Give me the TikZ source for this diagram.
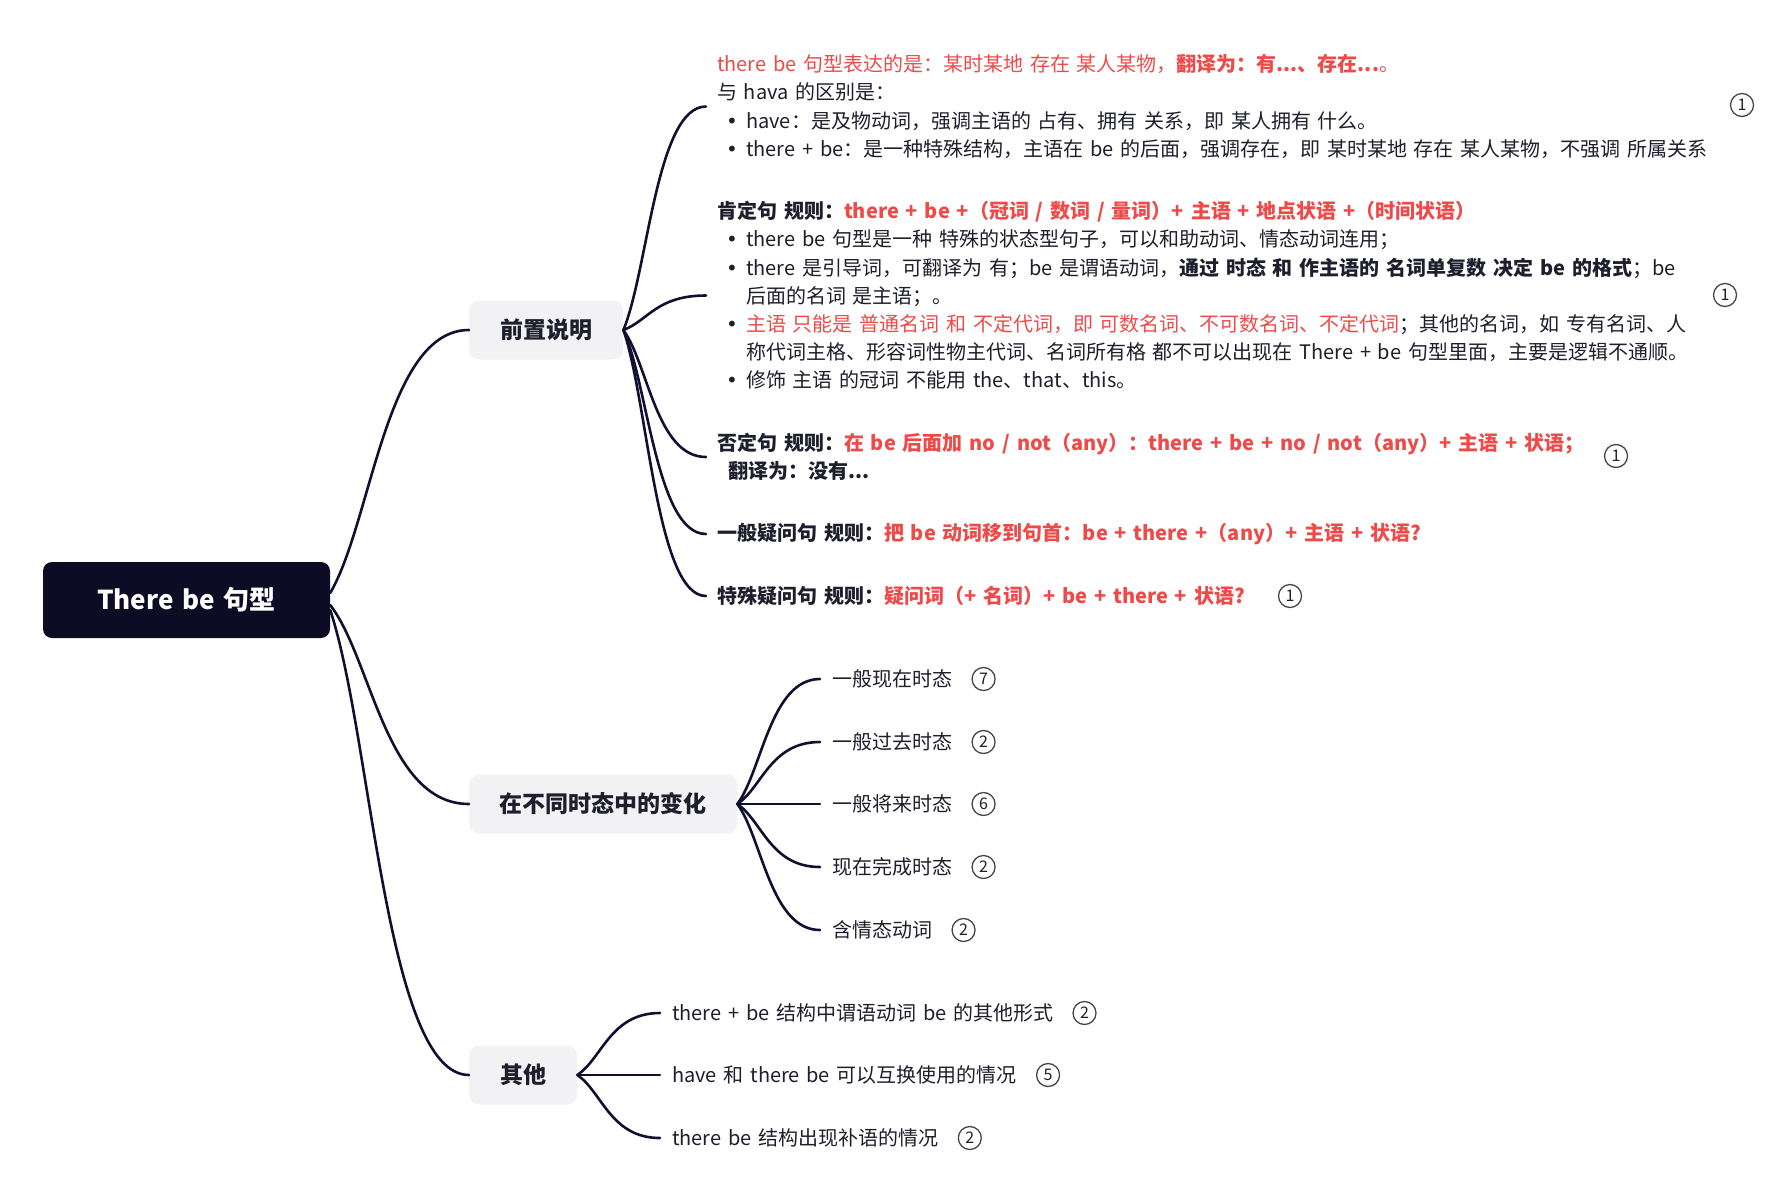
\documentclass[tikz,border=0pt]{standalone}
\usepackage{fontspec}
\setmainfont{Noto Sans CJK SC}[WordSpace=1.5]
\newfontfamily\bulfont{DejaVu Sans}
\usetikzlibrary{calc,positioning}
\definecolor{ink}{HTML}{1E1E2C}
\definecolor{redt}{HTML}{EE4A4A}
\definecolor{linec}{HTML}{121030}
\definecolor{rootc}{HTML}{0E0C24}
\definecolor{boxc}{HTML}{F2F2F4}
\definecolor{numc}{HTML}{44444E}
\newcommand{\bul}{\makebox[29pt][l]{\hspace*{9pt}{\bulfont •}}}
\newcommand{\cont}{\hspace*{29pt}}
\begin{document}
\begin{tikzpicture}[x=1pt,y=-1pt,
  conn/.style={draw=linec, line width=2.6pt, line cap=round},
  curvy/.style={to path={let \p1=(\tikztostart), \p2=(\tikztotarget) in
     .. controls ({\x1+0.3*(\x2-\x1)},{\y1+0.27*(\y2-\y1)}) and ({\x1+0.4*(\x2-\x1)},{\y2}) .. (\tikztotarget)}},
  rootbox/.style={fill=rootc, rounded corners=9pt, minimum width=287pt, minimum height=76pt,
     text=white, font=\fontsize{26}{30}\selectfont\bfseries, inner sep=0pt},
  branch/.style={fill=boxc, rounded corners=10pt, minimum height=59pt, anchor=west,
     text=ink, font=\fontsize{23}{27}\selectfont\bfseries, inner sep=0pt},
  blk/.style={anchor=west, align=left, inner xsep=11pt, inner ysep=0pt, text=ink,
     font=\fontsize{20}{28.2}\selectfont},
  leaf/.style={anchor=west, inner xsep=12pt, inner ysep=0pt, text=ink,
     font=\fontsize{20}{24}\selectfont},
  num/.style={circle, draw=numc, line width=1.3pt, minimum size=23pt, inner sep=0pt,
     text=ink, font=\fontsize{16}{16}\selectfont}
]
\useasboundingbox (0,0) rectangle (1768,1200);

% root and main branches
\node[rootbox] (root) at (186.5,600) {There be 句型};
\node[branch, minimum width=154pt] (pre) at (469,330) {前置说明};
\node[branch, minimum width=268pt] (tense) at (469,804) {在不同时态中的变化};
\node[branch, minimum width=108pt] (other) at (469,1075) {其他};

\draw[conn] ($(root.east)+(0,-7)$) to[curvy] (pre.west);
\draw[conn] ($(root.east)+(0,5)$) to[curvy] (tense.west);
\draw[conn] ($(root.east)+(0,10)$) to[curvy] (other.west);

% 前置说明 blocks
\node[blk] (p1) at (706,106.5) {%
{\color{redt}there be 句型表达的是：某时某地 存在 某人某物，\textbf{翻译为：有...、存在...}。}\\
与 hava 的区别是：\\
\bul have：是及物动词，强调主语的 占有、拥有 关系，即 某人拥有 什么。\\
\bul there + be：是一种特殊结构，主语在 be 的后面，强调存在，即 某时某地 存在 某人某物，不强调 所属关系};

\node[blk] (p2) at (706,295.5) {%
\textbf{肯定句 规则：{\color{redt}there + be +（冠词 / 数词 / 量词）+ 主语 + 地点状语 +（时间状语）}}\\
\bul there be 句型是一种 特殊的状态型句子，可以和助动词、情态动词连用；\\
\bul there 是引导词，可翻译为 有；be 是谓语动词，\textbf{通过 时态 和 作主语的 名词单复数 决定 be 的格式}；be\\
\cont 后面的名词 是主语；。\\
\bul {\color{redt}主语 只能是 普通名词 和 不定代词，即 可数名词、不可数名词、不定代词}；其他的名词，如 专有名词、人\\
\cont 称代词主格、形容词性物主代词、名词所有格 都不可以出现在 There + be 句型里面，主要是逻辑不通顺。\\
\bul 修饰 主语 的冠词 不能用 the、that、this。};

\node[blk] (p3) at (706,457) {%
\textbf{否定句 规则：{\color{redt}在 be 后面加 no / not（any）：there + be + no / not（any）+ 主语 + 状语；}}\\
\hspace*{11pt}\textbf{翻译为：没有...}};

\node[blk] (p4) at (706,534) {%
\textbf{一般疑问句 规则：{\color{redt}把 be 动词移到句首：be + there +（any）+ 主语 + 状语?}}};

\node[blk] (p5) at (706,596) {%
\textbf{特殊疑问句 规则：{\color{redt}疑问词（+ 名词）+ be + there + 状语?}}};

\foreach \b in {p1,p2,p3,p4,p5} \draw[conn] (pre.east) to[curvy] (\b.west);

\node[num] (n1) at (1742,105) {1};
\node[num] (n2) at (1725,295) {1};
\node[num] (n3) at (1616,456) {1};
\node[num] (n5) at (1290,596) {1};

% tenses
\node[leaf] (t1) at (820,679) {一般现在时态};
\node[leaf] (t2) at (820,742) {一般过去时态};
\node[leaf] (t3) at (820,804) {一般将来时态};
\node[leaf] (t4) at (820,867) {现在完成时态};
\node[leaf] (t5) at (820,930) {含情态动词};
\foreach \t in {t1,t2,t3,t4,t5} \draw[conn] (tense.east) to[curvy] (\t.west);
\node[num, right=7pt of t1] (nt1) {7};
\node[num, right=7pt of t2] (nt2) {2};
\node[num, right=7pt of t3] (nt3) {6};
\node[num, right=7pt of t4] (nt4) {2};
\node[num, right=7pt of t5] (nt5) {2};

% others
\node[leaf] (o1) at (660,1013) {there + be 结构中谓语动词 be 的其他形式};
\node[leaf] (o2) at (660,1075) {have 和 there be 可以互换使用的情况};
\node[leaf] (o3) at (660,1138) {there be 结构出现补语的情况};
\foreach \o in {o1,o2,o3} \draw[conn] (other.east) to[curvy] (\o.west);
\node[num, right=7pt of o1] (no1) {2};
\node[num, right=7pt of o2] (no2) {5};
\node[num, right=7pt of o3] (no3) {2};
\end{tikzpicture}
\end{document}
